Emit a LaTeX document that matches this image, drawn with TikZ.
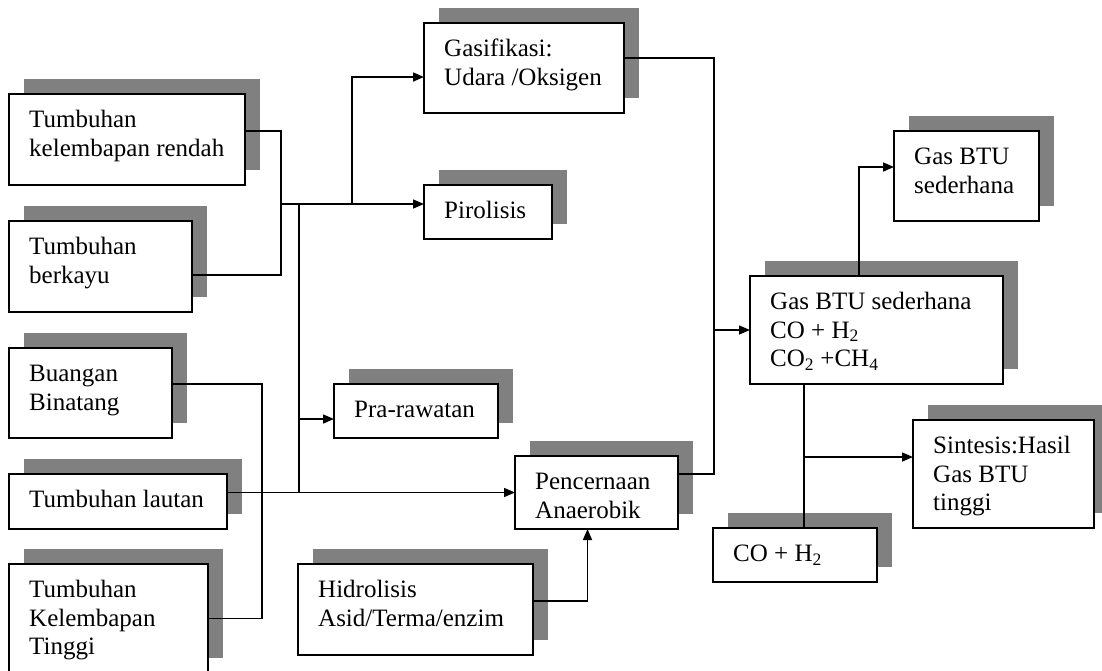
\documentclass[tikz,border=0pt]{standalone}
\usepackage{fontspec}
\setmainfont{Liberation Serif}
\usetikzlibrary{arrows.meta}

\definecolor{shadowgray}{RGB}{128,128,128}

\tikzset{
  flowframe/.style={draw=black, line width=1.8pt, fill=white, rectangle,
    inner sep=0pt, outer sep=0pt},
  labeltext/.style={anchor=north west, inner sep=0pt, align=left,
    font=\fontsize{25}{28.5}\selectfont},
  wire/.style={draw=black, line width=1.5pt},
  flow/.style={wire, -{Triangle[length=11pt,width=9pt]}}
}

% #1 name, #2 left, #3 top, #4 right, #5 bottom, #6 text
\newcommand\flowbox[6]{%
  \fill[shadowgray] ({#2+15},{#3-15}) rectangle ({#4+15},{#5-15});
  \node[flowframe, minimum width={#4-#2}, minimum height={#5-#3}]
    (#1) at ({(#2+#4)/2},{(#3+#5)/2}) {};
  \node[labeltext] at ({#2+20},{#3+13.5}) {\rule{0pt}{20pt}#6};
}

\begin{document}
\begin{tikzpicture}[x=1pt,y=-1pt]
\useasboundingbox (0,0) rectangle (1102,670);

% sources
\flowbox{b1}{9}{94}{245}{185}{Tumbuhan\\kelembapan rendah}
\flowbox{b2}{9}{221}{192}{312}{Tumbuhan\\berkayu}
\flowbox{b3}{9}{348}{172}{438}{Buangan\\Binatang}
\flowbox{b4}{9}{474}{227}{529}{Tumbuhan lautan}
\flowbox{b5}{9}{564}{208}{673}{Tumbuhan\\Kelembapan\\Tinggi}

% processes
\flowbox{g}{424}{23}{624}{113}{Gasifikasi:\\Udara /Oksigen}
\flowbox{p}{424}{185}{552}{239}{Pirolisis}
\flowbox{pr}{334}{384}{498}{438}{Pra-rawatan}
\flowbox{pc}{515}{456}{678}{529}{Pencernaan\\Anaerobik}
\flowbox{h}{298}{564}{533}{655}{Hidrolisis\\Asid/Terma/enzim}

% products
\flowbox{bs}{894}{131}{1039}{221}{Gas BTU\\sederhana}
\flowbox{bb}{750}{276}{1003}{384}{Gas BTU sederhana\\CO + H\textsubscript{2}\\CO\textsubscript{2} +CH\textsubscript{4}}
\flowbox{s}{913}{420}{1094}{528}{Sintesis:Hasil\\Gas BTU\\tinggi}
\flowbox{co}{713}{528}{877}{582}{CO + H\textsubscript{2}}

% junction points
\coordinate (busA) at (281,204);
\coordinate (busG) at (352,204);
\coordinate (busV) at (299,204);
\coordinate (busB) at (262,500);
\coordinate (busC) at (714,300);
\coordinate (busD) at (804,457);

% dry feedstock to thermal routes
\draw[wire] (b1.east |- 0,131) -| (busA);
\draw[wire] (b2.east |- 0,275) -| (busA);
\draw[flow] (busA) -- (p.west |- busA);
\draw[flow] (busG) |- (g.west |- 0,77);
\draw[wire] (busV) -- (busV |- pc.west);
\draw[flow] (busV |- 0,419) -- (pr.west |- 0,419);

% wet feedstock to digestion
\draw[flow] (b4.east |- pc.west) -- (pc.west);
\draw[wire] (b3.east |- 0,384) -| (busB) |- (b5.east);
\draw[flow] (h.east |- 0,601) -| ([xshift=-9pt]pc.south);

% gas collection
\draw[wire] (g.east |- 0,58) -| (busC);
\draw[wire] (pc.east |- 0,474) -| (busC);
\draw[flow] (busC |- bb.west) -- (bb.west);
\draw[flow] ([xshift=-17.5pt]bb.north) |- (bs.west |- 0,167);
\draw[wire] (busD |- bb.south) -- (busD |- co.north);
\draw[flow] (busD) -- (s.west |- busD);
\end{tikzpicture}
\end{document}
